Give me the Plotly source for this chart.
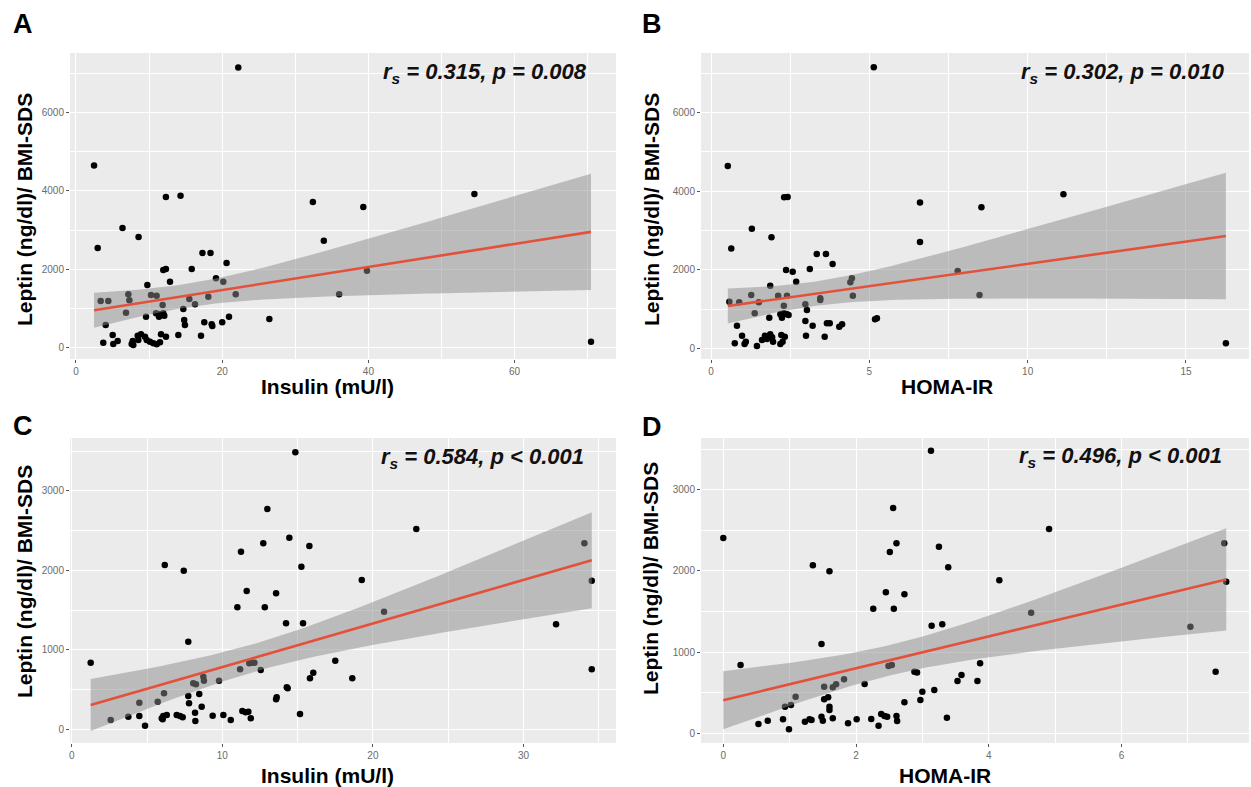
import numpy as np
import plotly.graph_objects as go

# ---------------- data ----------------
a_insulin = [22.2, 2.47, 2.97, 6.36, 8.56, 12.3, 14.3, 17.3, 18.4, 15.83, 11.94, 12.3, 20.6, 12.86,
             9.76, 19.15, 20.15, 3.38, 4.42, 7.16, 7.3, 6.84, 10.26, 11.03, 11.85, 15.5, 16.28, 18.1,
             21.85, 10.95, 11.5, 11.94, 11.35, 12.08, 9.58, 14.68, 14.8, 14.9, 4.06, 17.55, 18.56,
             18.65, 20.0, 20.93, 26.45, 5.02, 3.73, 5.1, 5.7, 7.62, 7.76, 7.84, 8.44, 8.53, 8.89,
             9.44, 9.67, 10.12, 10.58, 11.04, 11.49, 11.63, 12.31, 14.0, 17.1, 32.4, 33.9, 39.3,
             39.8, 36.0, 54.5, 70.45]
a_leptin = [7156, 4651, 2539, 3052, 2822, 3847, 3873, 2411, 2411, 2002, 1977, 2002, 2155, 1678,
            1593, 1765, 1678, 1184, 1184, 1355, 1202, 885, 1338, 1320, 1082, 1235, 1100, 1294,
            1355, 870, 844, 870, 783, 808, 783, 980, 698, 570, 570, 639, 588,
            545, 639, 783, 727, 315, 118, 84, 161, 84, 161, 59, 297, 187, 332,
            272, 187, 144, 102, 77, 128, 332, 272, 315, 297, 3719, 2727, 3591,
            1958, 1360, 3924, 145]

b_homa = [5.14, 0.53, 0.64, 1.29, 1.91, 2.31, 2.42, 3.34, 3.63, 3.84, 2.37, 2.58, 3.12, 2.69,
          1.87, 4.4, 4.45, 0.58, 0.89, 1.27, 1.51, 1.38, 2.12, 2.4, 2.3, 2.98, 3.45, 3.45, 4.48,
          2.19, 2.3, 2.4, 2.24, 2.45, 1.84, 3.03, 2.98, 3.21, 0.82, 3.66, 3.75, 4.05, 4.14, 5.18,
          5.24, 0.98, 0.75, 1.06, 1.1, 1.45, 1.61, 1.7, 1.77, 1.87, 1.96, 1.93, 2.19, 2.26, 2.33,
          2.22, 3.0, 3.59, 6.6, 6.6, 8.54, 11.13, 7.79, 8.48, 16.26]
b_leptin = [7155, 4642, 2538, 3047, 2826, 3845, 3853, 2402, 2402, 2147, 1993, 1950, 2019, 1696,
            1594, 1680, 1782, 1187, 1171, 1357, 1171, 891, 1339, 1339, 1085, 1120, 1273, 1230, 1339,
            865, 891, 865, 779, 848, 779, 975, 695, 575, 575, 636, 636, 550, 611, 738,
            764, 321, 127, 109, 168, 59, 211, 321, 237, 356, 168, 280, 109, 168, 295,
            339, 321, 295, 3709, 2707, 3590, 3921, 1969, 1358, 127]

c_insulin = [1.26, 2.59, 3.76, 4.49, 4.49, 4.87, 5.71, 6.13, 5.98, 6.08, 6.31, 6.04, 6.97, 7.19,
             7.37, 7.74, 7.79, 7.74, 8.07, 8.25, 8.47, 8.63, 8.19, 8.21, 8.74, 8.78, 9.78, 9.36,
             10.07, 10.56, 11.18, 11.33, 11.55, 11.73, 11.89, 11.79, 11.95, 12.13, 12.55, 13.57,
             13.61, 14.28, 14.34, 15.16, 15.82, 16.04, 14.85, 12.99, 14.45, 12.72, 15.78, 11.24,
             6.18, 7.44, 15.25, 11.62, 13.57, 11.0, 12.82, 14.23, 15.36, 19.26, 22.88, 20.74,
             17.5, 18.63, 34.04, 34.53, 32.16, 34.53]
c_leptin = [838, 117, 159, 335, 167, 45, 347, 453, 138, 167, 180, 126, 180, 167,
            151, 419, 327, 1102, 579, 566, 444, 284, 209, 104, 662, 611, 611, 171,
            180, 117, 755, 230, 214, 221, 138, 830, 838, 838, 746, 377,
            403, 528, 516, 192, 642, 712, 3484, 2771, 2410, 2340, 2306, 2234,
            2067, 1995, 2046, 1740, 1711, 1535, 1535, 1333, 1333, 1878, 2519, 1480,
            863, 641, 2340, 1870, 1321, 755]

d_homa = [0.26, 0.53, 0.67, 0.9, 0.99, 0.93, 1.02, 1.09, 1.23, 1.3, 1.33, 1.48, 1.5, 1.52, 1.58,
          1.6, 1.6, 1.52, 1.65, 1.7, 1.65, 1.82, 1.48, 1.88, 2.01, 2.13, 2.23, 2.34, 2.38, 2.43,
          2.47, 2.49, 2.54, 2.61, 2.62, 2.73, 2.88, 2.92, 2.97, 3.0, 3.18, 3.37, 3.13, 2.56, 0.0,
          2.61, 2.51, 3.25, 1.35, 1.6, 3.39, 2.45, 2.73, 2.26, 2.57, 3.14, 3.3, 4.16, 4.91, 4.64,
          3.87, 3.59, 3.53, 3.83, 7.55, 7.58, 7.04, 7.42]
d_leptin = [844, 118, 159, 176, 53, 331, 352, 454, 146, 176, 167, 208, 159, 422, 446,
            331, 290, 577, 569, 606, 188, 668, 1102, 127, 176, 610, 180, 97, 241, 216,
            208, 832, 844, 216, 155, 385, 760, 750, 413, 515, 536, 196, 3480, 2775, 2406,
            2340, 2234, 2299, 2070, 1996, 2045, 1738, 1713, 1537, 1537, 1327, 1344, 1885, 2517, 1487,
            864, 721, 647, 647, 2340, 1869, 1315, 761]

panel_letters = ["A", "B", "C", "D"]
x_titles = ["Insulin (mU/l)", "HOMA-IR", "Insulin (mU/l)", "HOMA-IR"]
y_title = "Leptin (ng/dl)/ BMI-SDS"
stats_r = ["0.315", "0.302", "0.584", "0.496"]
stats_p = ["= 0.008", "= 0.010", "< 0.001", "< 0.001"]

# ---------------- figure geometry ----------------
W, H = 1251, 787
FONT = "Liberation Sans, Arial, Helvetica, sans-serif"
T_CRIT = 1.995  # t quantile (0.975) for ~68 df


def px(xp):
    return xp / W


def py(yp):
    return 1 - yp / H


cols = [(70, 616), (701, 1249)]
rows = [(53, 359), (438, 743)]

panels = [
    dict(x=a_insulin, y=a_leptin, col=0, row=0, xr=[-0.82, 73.87], yr=[-299, 7527],
         xd=20, xm=10, yd=2000, ym=1000),
    dict(x=b_homa, y=b_leptin, col=1, row=0, xr=[-0.316, 16.99], yr=[-272, 7518],
         xd=5, xm=2.5, yd=2000, ym=1000),
    dict(x=c_insulin, y=c_leptin, col=0, row=1, xr=[-0.113, 36.14], yr=[-172, 3664],
         xd=10, xm=5, yd=1000, ym=500),
    dict(x=d_homa, y=d_leptin, col=1, row=1, xr=[-0.336, 7.923], yr=[-116, 3636],
         xd=2, xm=1, yd=1000, ym=500),
]

fig = go.Figure()
layout = {}
annotations = []

for i, p in enumerate(panels):
    k = "" if i == 0 else str(i + 1)
    xa, ya = "x" + k, "y" + k
    x = np.asarray(p["x"], float)
    y = np.asarray(p["y"], float)

    # points
    fig.add_trace(go.Scatter(x=x, y=y, mode="markers", xaxis=xa, yaxis=ya,
                             marker=dict(size=6.5, color="black", line=dict(width=0)),
                             showlegend=False, hoverinfo="skip"))

    # linear fit with 95% confidence band
    n = len(x)
    slope, intercept = np.polyfit(x, y, 1)
    resid = y - (slope * x + intercept)
    s = np.sqrt(np.sum(resid ** 2) / (n - 2))
    xm = x.mean()
    sxx = np.sum((x - xm) ** 2)
    xs = np.linspace(x.min(), x.max(), 80)
    ys = slope * xs + intercept
    se = s * np.sqrt(1.0 / n + (xs - xm) ** 2 / sxx)
    lo = ys - T_CRIT * se
    hi = ys + T_CRIT * se

    fig.add_trace(go.Scatter(x=xs, y=lo, mode="lines", line=dict(width=0), xaxis=xa, yaxis=ya,
                             showlegend=False, hoverinfo="skip"))
    fig.add_trace(go.Scatter(x=xs, y=hi, mode="lines", line=dict(width=0), fill="tonexty",
                             fillcolor="rgba(140,140,140,0.5)", xaxis=xa, yaxis=ya,
                             showlegend=False, hoverinfo="skip"))
    fig.add_trace(go.Scatter(x=xs, y=ys, mode="lines", line=dict(color="#E4513B", width=2.6),
                             xaxis=xa, yaxis=ya, showlegend=False, hoverinfo="skip"))

    c0, c1 = cols[p["col"]]
    r0, r1 = rows[p["row"]]
    common = dict(showline=False, zeroline=False, ticks="outside", ticklen=3, tickwidth=1,
                  tickcolor="#555555", gridcolor="white", gridwidth=1.3, showgrid=True,
                  tickfont=dict(family=FONT, size=10, color="#6b6b6b"), fixedrange=True)
    layout["xaxis" + k] = dict(domain=[px(c0), px(c1)], range=p["xr"], anchor=ya,
                               tick0=0, dtick=p["xd"],
                               minor=dict(tick0=0, dtick=p["xm"], showgrid=True,
                                          gridcolor="white", gridwidth=0.6),
                               **common)
    layout["yaxis" + k] = dict(domain=[py(r1), py(r0)], range=p["yr"], anchor=xa,
                               tick0=0, dtick=p["yd"],
                               minor=dict(tick0=0, dtick=p["ym"], showgrid=True,
                                          gridcolor="white", gridwidth=0.6),
                               **common)

# text placements (pixel positions measured on the reference)
letter_pos = [(23, 24), (652, 24), (23, 426), (652, 427)]
xtitle_pos = [(327, 386), (947, 386), (327, 775), (945, 775)]
ytitle_pos = [(24, 210), (651, 210), (24, 582), (650, 579)]
stats_pos = [(589, 73), (1227, 73), (586, 458), (1224, 457)]

for i in range(4):
    lx, ly = letter_pos[i]
    annotations.append(dict(text="<b>%s</b>" % panel_letters[i], x=px(lx), y=py(ly),
                            xref="paper", yref="paper", showarrow=False,
                            xanchor="center", yanchor="middle",
                            font=dict(family=FONT, size=27, color="black")))
    tx, ty = xtitle_pos[i]
    annotations.append(dict(text="<b>%s</b>" % x_titles[i], x=px(tx), y=py(ty),
                            xref="paper", yref="paper", showarrow=False,
                            xanchor="center", yanchor="middle",
                            font=dict(family=FONT, size=21, color="black")))
    vx, vy = ytitle_pos[i]
    annotations.append(dict(text="<b>%s</b>" % y_title, x=px(vx), y=py(vy),
                            xref="paper", yref="paper", showarrow=False, textangle=-90,
                            xanchor="center", yanchor="middle",
                            font=dict(family=FONT, size=21, color="black")))
    sx, sy = stats_pos[i]
    annotations.append(dict(text="<b><i>r<sub>s</sub> = %s, p %s</i></b>" % (stats_r[i], stats_p[i]),
                            x=px(sx), y=py(sy), xref="paper", yref="paper", showarrow=False,
                            xanchor="right", yanchor="middle",
                            font=dict(family=FONT, size=22, color="#111111")))

fig.update_layout(width=W, height=H, margin=dict(l=0, r=0, t=0, b=0),
                  paper_bgcolor="white", plot_bgcolor="#EBEBEB",
                  annotations=annotations, **layout)

fig.write_html("out.html", config={"displayModeBar": False},
               post_script="document.body.style.margin='0';document.body.style.padding='0';")
